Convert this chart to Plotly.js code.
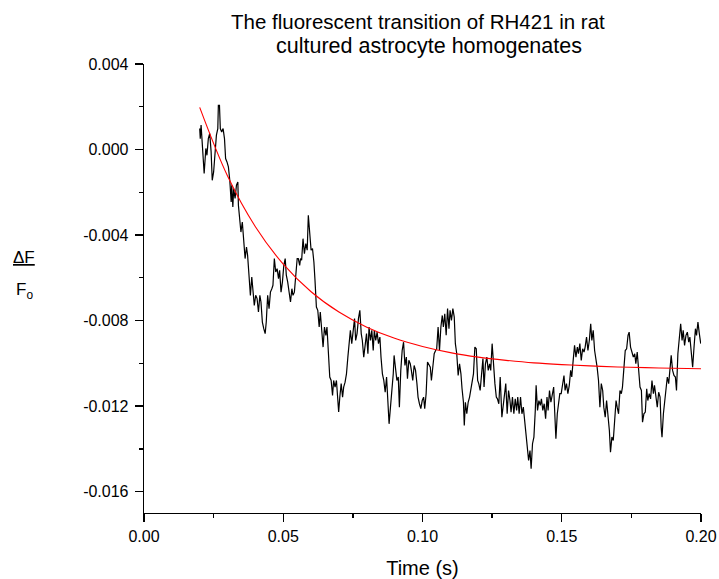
<!DOCTYPE html>
<html>
<head>
<meta charset="utf-8">
<script src="https://cdn.plot.ly/plotly-3.0.1.min.js"></script>
<style>
  html, body { margin: 0; padding: 0; background: #ffffff; }
  #chart { width: 719px; height: 579px; }
</style>
</head>
<body>
<div id="chart"></div>
<script>
// Measured fluorescence change (dF/Fo) of RH421 vs time
var timeSec = [
  0.0200, 0.0202, 0.0205, 0.0210, 0.0216, 0.0222, 0.0226, 0.0231, 0.0236, 0.0241,
  0.0245, 0.0250, 0.0255, 0.0260, 0.0265, 0.0267, 0.0271, 0.0274, 0.0279, 0.0284,
  0.0289, 0.0293, 0.0298, 0.0303, 0.0308, 0.0313, 0.0315, 0.0319, 0.0322, 0.0327,
  0.0332, 0.0337, 0.0339, 0.0344, 0.0348, 0.0353, 0.0358, 0.0363, 0.0368, 0.0372,
  0.0377, 0.0382, 0.0387, 0.0392, 0.0396, 0.0401, 0.0406, 0.0411, 0.0416, 0.0420,
  0.0425, 0.0430, 0.0435, 0.0439, 0.0444, 0.0449, 0.0454, 0.0459, 0.0463, 0.0468,
  0.0473, 0.0478, 0.0483, 0.0487, 0.0492, 0.0497, 0.0502, 0.0507, 0.0511, 0.0516,
  0.0521, 0.0526, 0.0531, 0.0535, 0.0540, 0.0545, 0.0550, 0.0554, 0.0559, 0.0562,
  0.0566, 0.0571, 0.0576, 0.0581, 0.0586, 0.0590, 0.0595, 0.0600, 0.0605, 0.0610,
  0.0614, 0.0619, 0.0624, 0.0629, 0.0633, 0.0638, 0.0643, 0.0648, 0.0653, 0.0657,
  0.0662, 0.0667, 0.0672, 0.0677, 0.0681, 0.0686, 0.0691, 0.0696, 0.0699, 0.0703,
  0.0708, 0.0713, 0.0717, 0.0722, 0.0727, 0.0732, 0.0736, 0.0741, 0.0746, 0.0751,
  0.0756, 0.0760, 0.0765, 0.0770, 0.0775, 0.0780, 0.0784, 0.0789, 0.0794, 0.0799,
  0.0804, 0.0808, 0.0813, 0.0818, 0.0823, 0.0827, 0.0832, 0.0837, 0.0842, 0.0847,
  0.0851, 0.0856, 0.0861, 0.0866, 0.0871, 0.0875, 0.0880, 0.0885, 0.0890, 0.0895,
  0.0898, 0.0903, 0.0908, 0.0913, 0.0917, 0.0922, 0.0927, 0.0932, 0.0937, 0.0942,
  0.0946, 0.0951, 0.0956, 0.0960, 0.0965, 0.0970, 0.0975, 0.0980, 0.0984, 0.0989,
  0.0994, 0.0999, 0.1004, 0.1008, 0.1013, 0.1018, 0.1023, 0.1028, 0.1032, 0.1037,
  0.1042, 0.1047, 0.1051, 0.1056, 0.1061, 0.1066, 0.1071, 0.1075, 0.1080, 0.1085,
  0.1090, 0.1095, 0.1099, 0.1104, 0.1109, 0.1114, 0.1118, 0.1123, 0.1128, 0.1133,
  0.1138, 0.1142, 0.1147, 0.1150, 0.1154, 0.1159, 0.1164, 0.1169, 0.1174, 0.1178,
  0.1183, 0.1188, 0.1193, 0.1198, 0.1202, 0.1207, 0.1212, 0.1217, 0.1221, 0.1226,
  0.1231, 0.1236, 0.1241, 0.1245, 0.1250, 0.1255, 0.1260, 0.1265, 0.1269, 0.1274,
  0.1279, 0.1285, 0.1290, 0.1294, 0.1299, 0.1304, 0.1309, 0.1314, 0.1318, 0.1323,
  0.1328, 0.1333, 0.1338, 0.1342, 0.1347, 0.1352, 0.1357, 0.1362, 0.1366, 0.1371,
  0.1376, 0.1381, 0.1386, 0.1390, 0.1395, 0.1400, 0.1405, 0.1408, 0.1413, 0.1418,
  0.1423, 0.1427, 0.1432, 0.1437, 0.1442, 0.1447, 0.1451, 0.1456, 0.1461, 0.1466,
  0.1471, 0.1475, 0.1479, 0.1484, 0.1489, 0.1493, 0.1498, 0.1503, 0.1508, 0.1512,
  0.1517, 0.1522, 0.1527, 0.1532, 0.1536, 0.1541, 0.1546, 0.1551, 0.1556, 0.1560,
  0.1565, 0.1570, 0.1575, 0.1580, 0.1584, 0.1589, 0.1594, 0.1599, 0.1604, 0.1608,
  0.1613, 0.1618, 0.1623, 0.1627, 0.1632, 0.1637, 0.1642, 0.1647, 0.1651, 0.1656,
  0.1661, 0.1666, 0.1671, 0.1675, 0.1680, 0.1685, 0.1690, 0.1695, 0.1699, 0.1704,
  0.1709, 0.1714, 0.1718, 0.1723, 0.1728, 0.1733, 0.1738, 0.1742, 0.1747, 0.1752,
  0.1757, 0.1762, 0.1766, 0.1771, 0.1776, 0.1781, 0.1786, 0.1790, 0.1795, 0.1800,
  0.1805, 0.1809, 0.1814, 0.1819, 0.1824, 0.1829, 0.1833, 0.1838, 0.1843, 0.1848,
  0.1853, 0.1857, 0.1860, 0.1865, 0.1869, 0.1874, 0.1879, 0.1884, 0.1889, 0.1893,
  0.1898, 0.1903, 0.1908, 0.1912, 0.1917, 0.1922, 0.1927, 0.1932, 0.1936, 0.1941,
  0.1946, 0.1951, 0.1956, 0.1960, 0.1965, 0.1970, 0.1975, 0.1980, 0.1984, 0.1989,
  0.1994, 0.1999
];

var deltaF = [
   0.00098,  0.00051,  0.00114,  0.00020, -0.00112,  0.00005, -0.00027,  0.00051,  0.00075, -0.00011,
  -0.00144, -0.00105, -0.00027,  0.00067,  0.00098,  0.00207,  0.00207,  0.00098,  0.00082,  0.00098,
   0.00051, -0.00042, -0.00058, -0.00081, -0.00144, -0.00245, -0.00167, -0.00269, -0.00183, -0.00229,
  -0.00167, -0.00152, -0.00261, -0.00323, -0.00386, -0.00339, -0.00433, -0.00510, -0.00456, -0.00495,
  -0.00588, -0.00682, -0.00596, -0.00667, -0.00729, -0.00682, -0.00697, -0.00760, -0.00682, -0.00713,
  -0.00807, -0.00838, -0.00861, -0.00807, -0.00682, -0.00744, -0.00667, -0.00651, -0.00635, -0.00510,
  -0.00573, -0.00557, -0.00604, -0.00565, -0.00667, -0.00620, -0.00542, -0.00510, -0.00588, -0.00620,
  -0.00667, -0.00713, -0.00651, -0.00682, -0.00667, -0.00604, -0.00510, -0.00510, -0.00542, -0.00510,
  -0.00518, -0.00417, -0.00487, -0.00440, -0.00471, -0.00308, -0.00393, -0.00471, -0.00463, -0.00526,
  -0.00612, -0.00737, -0.00752, -0.00830, -0.00760, -0.00861, -0.00924, -0.00830, -0.00869, -0.00830,
  -0.00924, -0.01064, -0.01080, -0.01150, -0.01080, -0.01111, -0.01080, -0.01174, -0.01228, -0.01158,
  -0.01095, -0.01158, -0.01111, -0.01088, -0.01049, -0.00971, -0.00908, -0.00846, -0.00908, -0.00830,
  -0.00791, -0.00893, -0.00861, -0.00791, -0.00752, -0.00861, -0.00893, -0.00971, -0.00908, -0.00861,
  -0.00955, -0.00830, -0.00893, -0.00846, -0.00940, -0.00846, -0.00893, -0.00854, -0.00908, -0.00877,
  -0.00971, -0.01049, -0.01080, -0.01135, -0.01064, -0.01174, -0.01283, -0.01205, -0.01142, -0.01049,
  -0.00963, -0.01033, -0.01080, -0.01064, -0.01205, -0.01033, -0.00940, -0.00901, -0.01010, -0.00971,
  -0.01072, -0.00986, -0.01002, -0.01033, -0.01080, -0.01010, -0.01033, -0.01095, -0.01158, -0.01189,
  -0.01212, -0.01174, -0.01158, -0.01212, -0.01142, -0.00994, -0.01010, -0.01018, -0.01080, -0.01002,
  -0.00955, -0.00940, -0.00932, -0.00830, -0.00940, -0.00830, -0.00776, -0.00830, -0.00768, -0.00869,
  -0.00744, -0.00838, -0.00752, -0.00799, -0.00744, -0.00784, -0.00908, -0.00955, -0.01057, -0.01002,
  -0.01049, -0.01119, -0.01182, -0.01291, -0.01182, -0.01236, -0.01182, -0.01158, -0.01111, -0.01095,
  -0.01049, -0.00924, -0.00932, -0.01080, -0.01095, -0.01127, -0.01033, -0.00978, -0.01111, -0.01002,
  -0.00971, -0.01033, -0.01002, -0.01033, -0.00908, -0.01033, -0.01095, -0.01158, -0.01166, -0.01189,
  -0.01064, -0.01252, -0.01189, -0.01142, -0.01095, -0.01236, -0.01127, -0.01174, -0.01228, -0.01158,
  -0.01236, -0.01166, -0.01220, -0.01158, -0.01236, -0.01158, -0.01236, -0.01205, -0.01252, -0.01329,
  -0.01376, -0.01454, -0.01408, -0.01493, -0.01376, -0.01345, -0.01220, -0.01103, -0.01220, -0.01174,
  -0.01197, -0.01166, -0.01220, -0.01189, -0.01259, -0.01158, -0.01220, -0.01127, -0.01182, -0.01142,
  -0.01111, -0.01236, -0.01353, -0.01236, -0.01189, -0.01142, -0.01142, -0.01095, -0.01057, -0.01127,
  -0.01095, -0.01142, -0.01103, -0.01033, -0.01064, -0.00986, -0.00916, -0.00971, -0.00924, -0.00955,
  -0.00908, -0.00986, -0.00932, -0.00947, -0.00924, -0.00877, -0.00940, -0.00893, -0.00815, -0.00893,
  -0.00846, -0.00940, -0.00978, -0.01018, -0.01080, -0.01205, -0.01095, -0.01127, -0.01205, -0.01252,
  -0.01174, -0.01236, -0.01314, -0.01416, -0.01345, -0.01361, -0.01252, -0.01174, -0.01205, -0.01236,
  -0.01127, -0.01142, -0.01111, -0.01033, -0.00940, -0.00932, -0.00869, -0.00854, -0.00924, -0.00947,
  -0.00971, -0.00955, -0.01002, -0.00947, -0.01018, -0.01111, -0.01127, -0.01275, -0.01236, -0.01228,
  -0.01119, -0.01174, -0.01142, -0.01166, -0.01080, -0.01142, -0.01103, -0.01166, -0.01205, -0.01135,
  -0.01158, -0.01299, -0.01345, -0.01236, -0.01182, -0.01127, -0.01064, -0.01095, -0.01033, -0.00963,
  -0.01033, -0.01057, -0.01064, -0.01127, -0.00955, -0.00869, -0.00815, -0.00893, -0.00846, -0.00916,
  -0.00869, -0.00854, -0.00901, -0.00877, -0.00971, -0.01018, -0.00924, -0.00838, -0.00869, -0.00807,
  -0.00861, -0.00908
];

// Exponential decay fit, sampled along the trace
var fitTime = [0.02, 0.03, 0.04, 0.05, 0.06, 0.07, 0.08, 0.09, 0.10, 0.11,
               0.12, 0.13, 0.14, 0.15, 0.16, 0.17, 0.18, 0.19, 0.20];
var fitDeltaF = [0.00197, -0.00124, -0.00361, -0.00536, -0.00665, -0.00760, -0.00831,
                 -0.00883, -0.00921, -0.00950, -0.00971, -0.00986, -0.00998, -0.01006,
                 -0.01012, -0.01017, -0.01020, -0.01023, -0.01025];

// Axis ticks
var xTickVals = [0, 0.05, 0.10, 0.15, 0.20];
var xTickText = ['0.00', '0.05', '0.10', '0.15', '0.20'];
var xMinorVals = [0.025, 0.075, 0.125, 0.175];
var yTickVals = [0.004, 0.000, -0.004, -0.008, -0.012, -0.016];
var yTickText = ['0.004', '0.000', '-0.004', '-0.008', '-0.012', '-0.016'];
var yMinorVals = [0.002, -0.002, -0.006, -0.010, -0.014];

var FONT = 'Liberation Sans, Arial, Helvetica, sans-serif';

var traces = [
  {
    x: timeSec, y: deltaF, type: 'scatter', mode: 'lines',
    line: { color: '#000000', width: 1.2 },
    hoverinfo: 'skip', showlegend: false
  },
  {
    x: fitTime, y: fitDeltaF, type: 'scatter', mode: 'lines',
    line: { color: '#ff0000', width: 1.1, shape: 'spline', smoothing: 1 },
    hoverinfo: 'skip', showlegend: false
  }
];

var axisCommon = {
  showgrid: false, zeroline: false,
  showline: true, linecolor: '#000000', linewidth: 1.3,
  ticks: 'outside', ticklen: 8, tickwidth: 1.3, tickcolor: '#000000',
  tickmode: 'array',
  tickfont: { family: FONT, size: 16, color: '#000000' },
  fixedrange: true
};

var layout = {
  width: 719, height: 579,
  margin: { l: 144, r: 18, t: 64, b: 66 },
  paper_bgcolor: '#ffffff', plot_bgcolor: '#ffffff',
  font: { family: FONT, color: '#000000' },
  xaxis: Object.assign({}, axisCommon, {
    range: [0, 0.2],
    tickvals: xTickVals, ticktext: xTickText,
    minor: { tickmode: 'array', tickvals: xMinorVals, ticks: 'outside', ticklen: 4,
             tickwidth: 1.3, tickcolor: '#000000', showgrid: false },
    title: { text: 'Time (s)', font: { family: FONT, size: 20, color: '#000000' }, standoff: 17 }
  }),
  yaxis: Object.assign({}, axisCommon, {
    range: [-0.017, 0.004],
    tickvals: yTickVals, ticktext: yTickText,
    ticklabelstandoff: 3,
    minor: { tickmode: 'array', tickvals: yMinorVals, ticks: 'outside', ticklen: 4,
             tickwidth: 1.3, tickcolor: '#000000', showgrid: false }
  }),
  annotations: [
    { text: 'The fluorescent transition of RH421 in rat', xref: 'paper', yref: 'paper',
      x: 0.4917, y: 1.094, xanchor: 'center', yanchor: 'middle', showarrow: false,
      font: { family: FONT, size: 20.5, color: '#000000' } },
    { text: 'cultured astrocyte homogenates', xref: 'paper', yref: 'paper',
      x: 0.5117, y: 1.040, xanchor: 'center', yanchor: 'middle', showarrow: false,
      font: { family: FONT, size: 21.5, color: '#000000' } },
    { text: '<u>\u0394F</u>', xref: 'paper', yref: 'paper',
      x: -0.2154, y: 0.568, xanchor: 'center', yanchor: 'middle', showarrow: false,
      font: { family: FONT, size: 17, color: '#000000' } },
    { text: 'F<sub>o</sub>', xref: 'paper', yref: 'paper',
      x: -0.2145, y: 0.494, xanchor: 'center', yanchor: 'middle', showarrow: false,
      font: { family: FONT, size: 17, color: '#000000' } }
  ]
};

Plotly.newPlot('chart', traces, layout, { displayModeBar: false, staticPlot: true });
</script>
</body>
</html>
